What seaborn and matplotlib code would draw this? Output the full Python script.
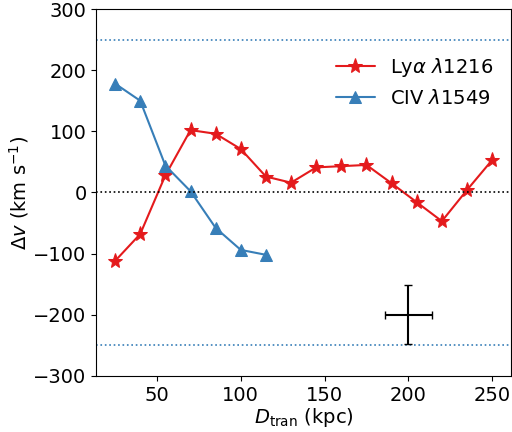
import seaborn as sns
import matplotlib.pyplot as plt
import pandas as pd

# data
d_lya = [25, 40, 55, 70, 85, 100, 115, 130, 145, 160, 175, 190, 205, 220, 235, 250]
dv_lya = [-112, -68, 28, 102, 96, 71, 26, 16, 41, 43, 45, 15, -16, -47, 4, 53]
d_civ = [25, 40, 55, 70, 85, 100, 115]
dv_civ = [178, 150, 44, 2, -58, -94, -102]

# typical error bar
err_x, err_y = 200, -200
err_dx, err_dy = 14, 48

red = '#e41a1c'
blue = '#377eb8'

sns.set_style('ticks')
plt.rcParams['font.family'] = ['DejaVu Sans']
plt.rcParams['mathtext.fontset'] = 'dejavusans'
for k in ['text.color', 'axes.labelcolor', 'xtick.color', 'ytick.color', 'axes.edgecolor']:
    plt.rcParams[k] = 'black'

fig, ax = plt.subplots(figsize=(5.12, 4.32), dpi=100)

lya = pd.DataFrame({'d': d_lya, 'dv': dv_lya})
civ = pd.DataFrame({'d': d_civ, 'dv': dv_civ})
sns.lineplot(data=lya, x='d', y='dv', color=red, marker='*', markersize=11,
             markeredgecolor=red, label=r'Ly$\alpha$ $\lambda$1216', ax=ax)
sns.lineplot(data=civ, x='d', y='dv', color=blue, marker='^', markersize=9,
             markeredgecolor=blue, label=r'CIV $\lambda$1549', ax=ax)

ax.axhline(0, color='black', ls=':', lw=1.2)
ax.axhline(250, color=blue, ls=':', lw=1.2)
ax.axhline(-250, color=blue, ls=':', lw=1.2)

ax.errorbar(err_x, err_y, xerr=err_dx, yerr=err_dy, color='black', capsize=3, lw=1.5)

ax.set_xlim(13.75, 261.25)
ax.set_ylim(-300, 300)
ax.set_xticks([50, 100, 150, 200, 250])
ax.set_yticks([-300, -200, -100, 0, 100, 200, 300])
ax.tick_params(labelsize=14)
ax.set_xlabel(r'$D_{\rm tran}$ (kpc)', fontsize=14, labelpad=1)
ax.set_ylabel(r'$\Delta v$ (km s$^{-1}$)', fontsize=14, labelpad=2)
ax.legend(loc='upper right', frameon=False, fontsize=14, bbox_to_anchor=(1.0, 0.92))

plt.subplots_adjust(left=0.188, right=0.998, top=0.979, bottom=0.13)
plt.savefig('out.png', dpi=100)
